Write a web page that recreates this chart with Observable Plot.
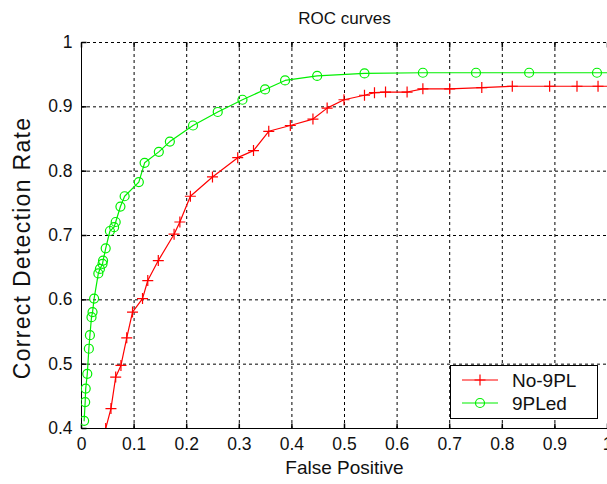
<!DOCTYPE html>
<html><head><meta charset="utf-8">
<script src="https://cdn.jsdelivr.net/npm/d3@7"></script>
<script src="https://cdn.jsdelivr.net/npm/@observablehq/plot@0.6"></script>
<style>body{margin:0;background:#fff} svg{display:block}</style>
</head><body><div id="chart"></div>
<script>
// ---- data ----
const seriesNames = ["No-9PL", "9PLed"];
const redX = [0.046,0.056,0.065,0.075,0.086,0.097,0.116,0.126,0.146,0.176,0.187,0.207,0.249,0.297,0.327,0.356,0.397,0.440,0.467,0.499,0.538,0.557,0.578,0.619,0.649,0.700,0.761,0.819,0.890,0.942,0.982];
const redY = [0.400,0.431,0.480,0.498,0.541,0.581,0.602,0.630,0.661,0.702,0.721,0.761,0.791,0.821,0.832,0.862,0.871,0.881,0.898,0.911,0.918,0.922,0.923,0.923,0.928,0.928,0.930,0.932,0.932,0.932,0.932];
const greenX = [0.005,0.007,0.008,0.011,0.014,0.016,0.019,0.021,0.024,0.032,0.035,0.040,0.041,0.046,0.054,0.062,0.065,0.074,0.082,0.109,0.120,0.147,0.168,0.212,0.259,0.306,0.349,0.387,0.448,0.538,0.649,0.750,0.851,0.980];
const greenY = [0.412,0.441,0.462,0.485,0.524,0.545,0.573,0.581,0.602,0.641,0.648,0.656,0.661,0.680,0.707,0.713,0.721,0.745,0.761,0.783,0.813,0.830,0.846,0.871,0.892,0.911,0.927,0.941,0.948,0.952,0.953,0.953,0.953,0.953];
// lines continue to the right edge at their last level
const redTail = {x: 1.0, y: 0.932};
const greenTail = {x: 1.0, y: 0.953};
const xTicks = [0,0.1,0.2,0.3,0.4,0.5,0.6,0.7,0.8,0.9,1];
const yTicks = [0.4,0.5,0.6,0.7,0.8,0.9,1];
const titleText = "ROC curves";
const xLabel = "False Positive";
const yLabel = "Correct Detection Rate";

// ---- build ----
const red = redX.map((x, i) => ({x, y: redY[i]}));
const green = greenX.map((x, i) => ({x, y: greenY[i]}));
const redLine = red.concat([redTail]);
const greenLine = green.concat([greenTail]);

const RED = "#ff0000", GREEN = "#00f000";
const FONT = "'Liberation Sans', Arial, Helvetica, sans-serif";
const fmt = d => String(+d.toFixed(1));

const plusSym = {draw(ctx, size) { const r = Math.sqrt(size / Math.PI); ctx.moveTo(-r, 0); ctx.lineTo(r, 0); ctx.moveTo(0, -r); ctx.lineTo(0, r); }};
const tickUp = {draw(ctx) { ctx.moveTo(0, 0); ctx.lineTo(0, -5); }};
const tickDown = {draw(ctx) { ctx.moveTo(0, 0); ctx.lineTo(0, 5); }};
const tickRight = {draw(ctx) { ctx.moveTo(0, 0); ctx.lineTo(5, 0); }};

const svg = Plot.plot({
  width: 607, height: 484,
  marginTop: 42, marginBottom: 56, marginLeft: 81, marginRight: 0,
  style: {fontFamily: FONT, background: "#fff", color: "#111", overflow: "visible"},
  x: {domain: [0, 1]},
  y: {domain: [0.4, 1]},
  marks: [
    Plot.gridX(xTicks.filter(d => d > 0), {stroke: "#000", strokeOpacity: 1, strokeDasharray: "3,3", strokeWidth: 1}),
    Plot.gridY(yTicks.filter(d => d > 0.4), {stroke: "#000", strokeOpacity: 1, strokeDasharray: "3,3", strokeWidth: 1}),
    Plot.ruleX([0], {stroke: "#000", strokeWidth: 1}),
    Plot.ruleY([0.4], {stroke: "#000", strokeWidth: 1}),
    Plot.dot(xTicks, {x: d => d, y: () => 0.4, symbol: tickUp, stroke: "#000", r: 1}),
    Plot.dot(xTicks, {x: d => d, y: () => 1, symbol: tickDown, stroke: "#000", r: 1}),
    Plot.dot(yTicks, {x: () => 0, y: d => d, symbol: tickRight, stroke: "#000", r: 1}),
    Plot.axisX(xTicks, {tickSize: 0, tickPadding: 9, tickFormat: fmt, fontSize: 17.5, fill: "#111", label: null}),
    Plot.axisY(yTicks, {tickSize: 0, tickPadding: 9, tickFormat: fmt, fontSize: 17.5, fill: "#111", label: null}),
    Plot.line(redLine, {x: "x", y: "y", stroke: RED, strokeWidth: 1.2, clip: true}),
    Plot.line(greenLine, {x: "x", y: "y", stroke: GREEN, strokeWidth: 1.2, clip: true}),
    Plot.dot(red, {x: "x", y: "y", symbol: plusSym, r: 5.5, stroke: RED, strokeWidth: 1.2, clip: true}),
    Plot.dot(green, {x: "x", y: "y", symbol: "circle", r: 4.5, fill: "none", stroke: GREEN, strokeWidth: 1.2, clip: true}),
    Plot.text([titleText], {frameAnchor: "top", dy: -31, fontSize: 17, fill: "#111"}),
    Plot.text([xLabel], {frameAnchor: "bottom", dy: 45, fontSize: 19, fill: "#111"})
  ]
});

const root = d3.select(svg);
// y-axis label
root.append("text")
  .attr("transform", "translate(22,248) rotate(-90)")
  .attr("text-anchor", "middle").attr("dy", "0.35em")
  .attr("font-family", FONT).attr("font-size", 23).attr("letter-spacing", "1.3px")
  .attr("fill", "#111").text(yLabel);

// legend (drawn into the same SVG)
const g = root.append("g").attr("font-family", FONT).attr("text-anchor", "start");
g.append("rect").attr("x", 450.5).attr("y", 365.5).attr("width", 147).attr("height", 53)
  .attr("fill", "#fff").attr("stroke", "#000");
const rows = [{name: seriesNames[0], color: RED, sym: "plus", y: 380}, {name: seriesNames[1], color: GREEN, sym: "circle", y: 403}];
rows.forEach(r => {
  g.append("line").attr("x1", 462).attr("x2", 498).attr("y1", r.y).attr("y2", r.y).attr("stroke", r.color).attr("stroke-width", 1.2);
  if (r.sym === "plus") {
    g.append("path").attr("d", `M474.5,${r.y}H485.5M480,${r.y - 5.5}V${r.y + 5.5}`).attr("stroke", r.color).attr("stroke-width", 1.2);
  } else {
    g.append("circle").attr("cx", 480).attr("cy", r.y).attr("r", 4.5).attr("fill", "none").attr("stroke", r.color).attr("stroke-width", 1.2);
  }
  g.append("text").attr("x", 512).attr("y", r.y).attr("dy", "0.35em").attr("font-size", 19).attr("fill", "#111").text(r.name);
});

document.getElementById("chart").appendChild(svg);
</script>
</body></html>
